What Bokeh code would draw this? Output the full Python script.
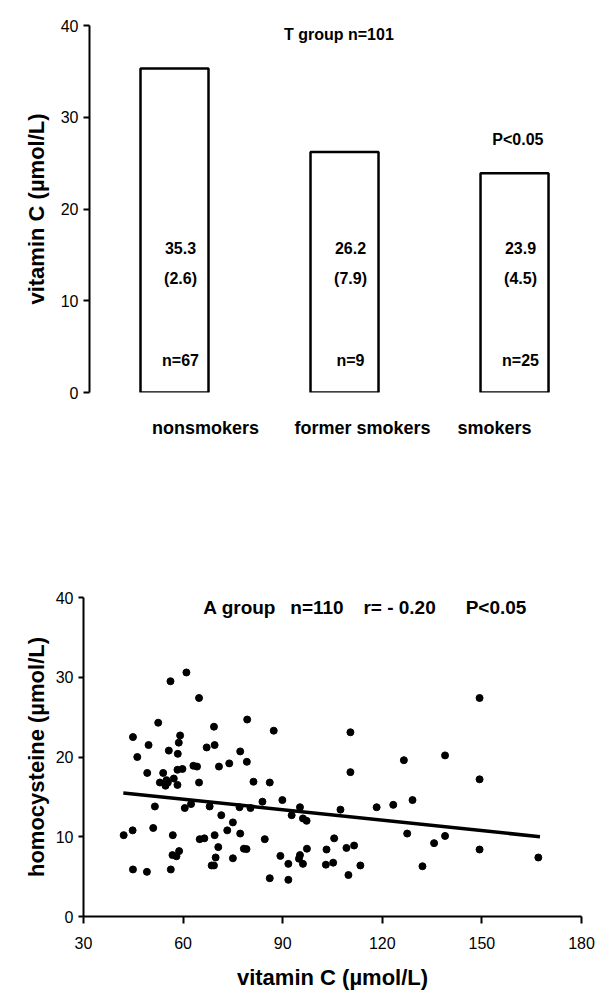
from bokeh.plotting import figure
from bokeh.models import FixedTicker, Range1d
from bokeh.core.properties import value
from bokeh.embed import file_html
from bokeh.resources import INLINE

FONT = "Liberation Sans"

# ---------------- data: top panel (T group) ----------------
groups = ["nonsmokers", "former smokers", "smokers"]
vitc_mean = [35.3, 26.2, 23.9]
vitc_sd_text = ["(2.6)", "(7.9)", "(4.5)"]
group_n_text = ["n=67", "n=9", "n=25"]
top_yticks = [0, 10, 20, 30, 40]

# ---------------- data: bottom panel (A group) ----------------
vitc_x = [61.0, 56.2, 64.8, 52.5, 69.3, 44.9, 59.1, 58.7, 49.6, 69.5, 67.1, 55.7, 46.2, 58.4,
          77.2, 73.9, 70.8, 63.1, 64.2, 58.3, 59.8, 49.2, 54.0, 53.0, 55.0, 55.4, 54.7, 57.2,
          58.3, 64.8, 51.5, 60.5, 62.4, 68.0, 71.5, 77.0, 75.0, 51.0, 42.1, 44.8, 56.9, 69.5,
          73.3, 77.2, 65.0, 66.4, 70.6, 56.8, 58.0, 58.8, 69.8, 75.0, 68.6, 69.3, 44.9, 49.1,
          56.3,
          79.3, 87.3, 110.4, 79.2, 126.5, 110.4, 81.2, 86.1, 83.9, 89.9, 80.3, 95.2, 92.7, 96.1,
          97.2, 107.4, 118.3, 123.3, 84.6, 105.5, 78.3, 79.1, 97.3, 103.2, 109.2, 111.5, 89.3,
          95.2, 94.9, 96.1, 91.7, 103.0, 105.2, 113.4, 86.1, 91.7, 109.8, 127.5,
          149.3, 138.9, 149.3, 129.1, 135.6, 138.9, 149.3, 132.1, 167.0]
hcy_y = [30.6, 29.5, 27.4, 24.3, 23.8, 22.5, 22.7, 21.8, 21.5, 21.5, 21.2, 20.8, 20.0, 20.4,
         20.7, 19.2, 18.8, 18.9, 18.8, 18.4, 18.5, 18.0, 18.0, 16.8, 17.1, 16.8, 16.4, 17.3,
         16.5, 16.8, 13.8, 13.6, 14.1, 13.8, 12.7, 13.7, 11.8, 11.1, 10.2, 10.8, 10.2, 10.2,
         10.8, 10.4, 9.7, 9.8, 8.7, 7.7, 7.55, 8.2, 7.4, 7.3, 6.4, 6.4, 5.9, 5.6,
         5.9,
         24.7, 23.3, 23.1, 19.4, 19.6, 18.1, 16.9, 16.8, 14.4, 14.6, 13.6, 13.7, 12.7, 12.3,
         12.0, 13.4, 13.7, 14.0, 9.7, 9.8, 8.5, 8.45, 8.5, 8.4, 8.6, 8.9, 7.6,
         7.7, 7.25, 6.6, 6.6, 6.5, 6.75, 6.4, 4.8, 4.6, 5.2, 10.4,
         27.4, 20.2, 17.2, 14.6, 9.2, 10.1, 8.4, 6.3, 7.4]
fit_x = [42.0, 167.5]
fit_y = [15.5, 10.0]
bottom_xticks = [30, 60, 90, 120, 150, 180]
bottom_yticks = [0, 10, 20, 30, 40]
stats_text = ["A group", "n=110", "r= - 0.20", "P<0.05"]

# ---------------- top figure ----------------
pos = list(range(1, len(groups) + 1))
X0, X1 = 0.5, 3.441
FRAME_W = 597 - 89 - 8
px_per_unit = FRAME_W / (X1 - X0)

p1 = figure(width=597, height=460, output_backend="svg", toolbar_location=None,
            x_range=Range1d(X0, X1), y_range=Range1d(0, 40),
            min_border_left=89, min_border_right=8, min_border_top=25, min_border_bottom=68)
p1.outline_line_color = None
p1.grid.visible = False

p1.vbar(x=pos, top=vitc_mean, bottom=0, width=0.4, fill_color="white",
        line_color="black", line_width=2.5)

ya = p1.yaxis[0]
ya.ticker = FixedTicker(ticks=top_yticks)
ya.minor_tick_line_color = None
ya.major_tick_in = 0
ya.major_tick_out = 6
ya.axis_line_width = 2
ya.axis_line_color = "black"
ya.major_tick_line_width = 2
ya.major_tick_line_color = "black"
ya.major_label_standoff = 5
ya.major_label_text_font = FONT
ya.major_label_text_font_size = "16px"
ya.major_label_text_color = "black"
ya.axis_label = "vitamin C (\u00b5mol/L)"
ya.axis_label_text_font = FONT
ya.axis_label_text_font_style = "bold"
ya.axis_label_text_font_size = "22px"
ya.axis_label_text_color = "black"
ya.axis_label_standoff = 9

# category labels: an x axis without line/ticks, label positions nudged as in the original
label_dx = [31, 18, -20]
cat_ticks = [round(p + dx / px_per_unit, 4) for p, dx in zip(pos, label_dx)]
xa = p1.xaxis[0]
xa.ticker = FixedTicker(ticks=cat_ticks, minor_ticks=[])
xa.major_label_overrides = {t: g for t, g in zip(cat_ticks, groups)}
xa.axis_line_color = None
xa.major_tick_line_color = None
xa.minor_tick_line_color = None
xa.major_tick_in = 0
xa.major_tick_out = 0
xa.major_label_standoff = 25
xa.major_label_text_font = FONT
xa.major_label_text_font_style = "bold"
xa.major_label_text_font_size = "18px"
xa.major_label_text_color = "black"

txt = dict(text_font=value(FONT), text_font_style="bold", text_color="black",
           text_align="center", text_baseline="middle")
p1.text(x=pos, y=[15.7] * 3, text=[f"{m:.1f}" for m in vitc_mean], x_offset=6,
        text_font_size="16px", **txt)
p1.text(x=pos, y=[12.4] * 3, text=vitc_sd_text, x_offset=6, text_font_size="16px", **txt)
p1.text(x=pos, y=[3.5] * 3, text=group_n_text, x_offset=6, text_font_size="16px", **txt)
p1.text(x=[1.98], y=[39.05], text=["T group  n=101"], text_font_size="16px", **txt)
p1.text(x=[3.02], y=[27.6], text=["P<0.05"], text_font_size="16px", **txt)

# ---------------- bottom figure ----------------
p2 = figure(width=597, height=532, output_backend="svg", toolbar_location=None,
            x_range=Range1d(30, 180), y_range=Range1d(0, 40),
            min_border_left=83, min_border_right=16, min_border_top=137, min_border_bottom=75)
p2.outline_line_color = None
p2.grid.visible = False

p2.scatter(vitc_x, hcy_y, size=7, color="black")
p2.line(fit_x, fit_y, line_width=3.5, color="black")

for ax, ticks in ((p2.xaxis[0], bottom_xticks), (p2.yaxis[0], bottom_yticks)):
    ax.ticker = FixedTicker(ticks=ticks)
    ax.minor_tick_line_color = None
    ax.major_tick_in = 0
    ax.major_tick_out = 7
    ax.axis_line_width = 2
    ax.axis_line_color = "black"
    ax.major_tick_line_width = 2
    ax.major_tick_line_color = "black"
    ax.major_label_text_font = FONT
    ax.major_label_text_font_size = "16px"
    ax.major_label_text_color = "black"
    ax.axis_label_text_font = FONT
    ax.axis_label_text_font_style = "bold"
    ax.axis_label_text_font_size = "22px"
    ax.axis_label_text_color = "black"
p2.xaxis[0].major_label_standoff = 13
p2.xaxis[0].axis_label = "vitamin C (\u00b5mol/L)"
p2.xaxis[0].axis_label_standoff = 13
p2.yaxis[0].major_tick_out = 5
p2.yaxis[0].major_label_standoff = 5
p2.yaxis[0].axis_label = "homocysteine (\u00b5mol/L)"
p2.yaxis[0].axis_label_standoff = 4

stats_x = [66.1, 92.3, 114.3, 145.1]
p2.text(x=stats_x, y=[38.75] * 4, text=stats_text, text_font=value(FONT),
        text_font_style="bold", text_font_size="19px", text_color="black",
        text_align="left", text_baseline="middle")

open("out.html", "w").write(file_html([p1, p2], INLINE))
